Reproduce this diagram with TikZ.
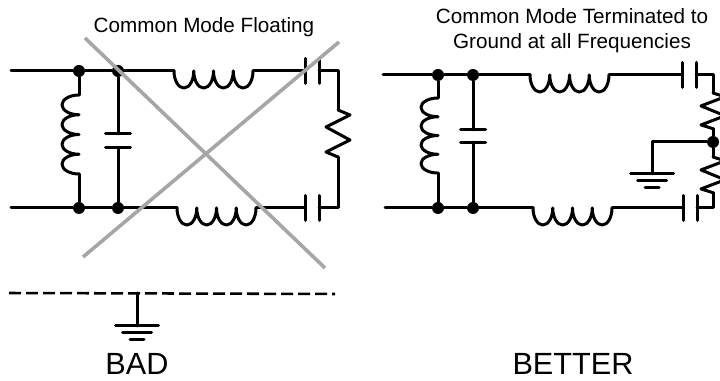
\documentclass[tikz,border=0pt]{standalone}
\usepackage{fontspec}
\setmainfont{Liberation Sans}
\tikzset{
    wire/.style={line width=2.25pt,line cap=round,line join=round},
    junction/.style={circle,fill=black,inner sep=0pt,minimum size=9pt},
    cross/.style={line width=2.7pt,color=black!35},
    caption/.style={font=\fontsize{15.5}{18.75}\selectfont,align=center,inner sep=0pt},
    verdict/.style={font=\fontsize{23}{26}\selectfont,inner sep=0pt,anchor=base},
    coil/.pic={
        \coordinate (-in) at (0,0);
        \coordinate (-out) at (79,0);
        \draw[wire] (0,0) arc (180:360:9.875 and 17) arc (180:360:9.875 and 17)
            arc (180:360:9.875 and 17) arc (180:360:9.875 and 17);
    },
    cap/.pic={
        \coordinate (-in) at (0,0);
        \coordinate (-out) at (14,0);
        \draw[wire] (0,-12.5) -- (0,12.5);
        \draw[wire] (14,-12.5) -- (14,12.5);
    },
    resistor/.pic={
        \coordinate (-in) at (0,0);
        \coordinate (-out) at (0,-47);
        \draw[wire] (0,0) -- (12,-5) -- (-12,-17) -- (12,-30) -- (-12,-42) -- (0,-47);
    },
    gnd/.pic={
        \coordinate (-top) at (0,0);
        \draw[wire] (-21.5,0) -- (21.5,0);
        \draw[wire] (-14.5,-7) -- (14.5,-7);
        \draw[wire] (-7,-14) -- (7,-14);
    },
}
\begin{document}
\begin{tikzpicture}[x=0.75pt,y=0.75pt]
    \useasboundingbox (0,0) rectangle (720,381);
    % left circuit
    \coordinate (inTopA) at (11,310);
    \coordinate (inBotA) at (11,173);
    \node[junction] (tlA) at (79,310) {};
    \node[junction] (trA) at (118,310) {};
    \node[junction] (blA) at (79,173) {};
    \node[junction] (brA) at (118,173) {};
    \pic (coilTopA) at (174,310) {coil};
    \pic (coilBotA) at (177,173) {coil};
    \pic[rotate=-90] (coilShuntA) at (79,286) {coil};
    \pic[rotate=-90] (capShuntA) at (118,247) {cap};
    \pic (capTopA) at (305,310) {cap};
    \pic (capBotA) at (305,173) {cap};
    \pic (resA) at (338,271) {resistor};
    \draw[wire] (inTopA) -- (tlA) -- (trA) -- (coilTopA-in);
    \draw[wire] (coilTopA-out) -- (capTopA-in);
    \draw[wire] (capTopA-out) -| (resA-in);
    \draw[wire] (resA-out) |- (capBotA-out);
    \draw[wire] (inBotA) -- (blA) -- (brA) -- (coilBotA-in);
    \draw[wire] (coilBotA-out) -- (capBotA-in);
    \draw[wire] (tlA) -- (coilShuntA-in);
    \draw[wire] (coilShuntA-out) -- (blA);
    \draw[wire] (trA) -- (capShuntA-in);
    \draw[wire] (capShuntA-out) -- (brA);
    % crossed out
    \coordinate (crossA) at (85,343);
    \coordinate (crossB) at (325,113);
    \coordinate (crossC) at (83,124);
    \coordinate (crossD) at (339,339);
    \draw[cross] (crossA) -- (crossB);
    \draw[cross] (crossC) -- (crossD);
    % chassis
    \coordinate (planeL) at (9,88);
    \coordinate (planeR) at (335,87);
    \coordinate (planeT) at (137,88);
    \pic (gndA) at (137,55) {gnd};
    \draw[line width=1.9pt,dash pattern=on 9pt off 3.75pt] (planeL) -- (planeR);
    \draw[wire] (planeT) -- (gndA-top);
    % right circuit
    \coordinate (inTopB) at (383,306);
    \coordinate (inBotB) at (385,173);
    \node[junction] (tlB) at (438,306) {};
    \node[junction] (trB) at (473,306) {};
    \node[junction] (blB) at (438,173) {};
    \node[junction] (brB) at (473,173) {};
    \node[junction] (mid) at (713,239) {};
    \pic (coilTopB) at (530,306) {coil};
    \pic (coilBotB) at (533,173) {coil};
    \pic[rotate=-90,xscale=0.95] (coilShuntB) at (438,283) {coil};
    \pic[rotate=-90,xscale=0.86] (capShuntB) at (473,251) {cap};
    \pic (capTopB) at (682,306) {cap};
    \pic (capBotB) at (683,173) {cap};
    \pic[yscale=0.76] (resTop) at (713,288) {resistor};
    \pic[yscale=0.76] (resBot) at (713,224) {resistor};
    \pic (gndB) at (652,207) {gnd};
    \coordinate (gndCorner) at (652,239);
    \draw[wire] (inTopB) -- (tlB) -- (trB) -- (coilTopB-in);
    \draw[wire] (coilTopB-out) -- (capTopB-in);
    \draw[wire] (capTopB-out) -| (resTop-in);
    \draw[wire] (resTop-out) -- (mid) -- (resBot-in);
    \draw[wire] (resBot-out) |- (capBotB-out);
    \draw[wire] (inBotB) -- (blB) -- (brB) -- (coilBotB-in);
    \draw[wire] (coilBotB-out) -- (capBotB-in);
    \draw[wire] (tlB) -- (coilShuntB-in);
    \draw[wire] (coilShuntB-out) -- (blB);
    \draw[wire] (trB) -- (capShuntB-in);
    \draw[wire] (capShuntB-out) -- (brB);
    \draw[wire] (mid) -- (gndCorner) -- (gndB-top);
    % labels
    \node[caption] (titleA) at (204,354) {Common Mode Floating};
    \node[caption] (titleB) at (572,350) {Common Mode Terminated to\\Ground at all Frequencies};
    \node[verdict] (bad) at (137,6.5) {BAD};
    \node[verdict] (better) at (573,6.5) {BETTER};
\end{tikzpicture}
\end{document}
